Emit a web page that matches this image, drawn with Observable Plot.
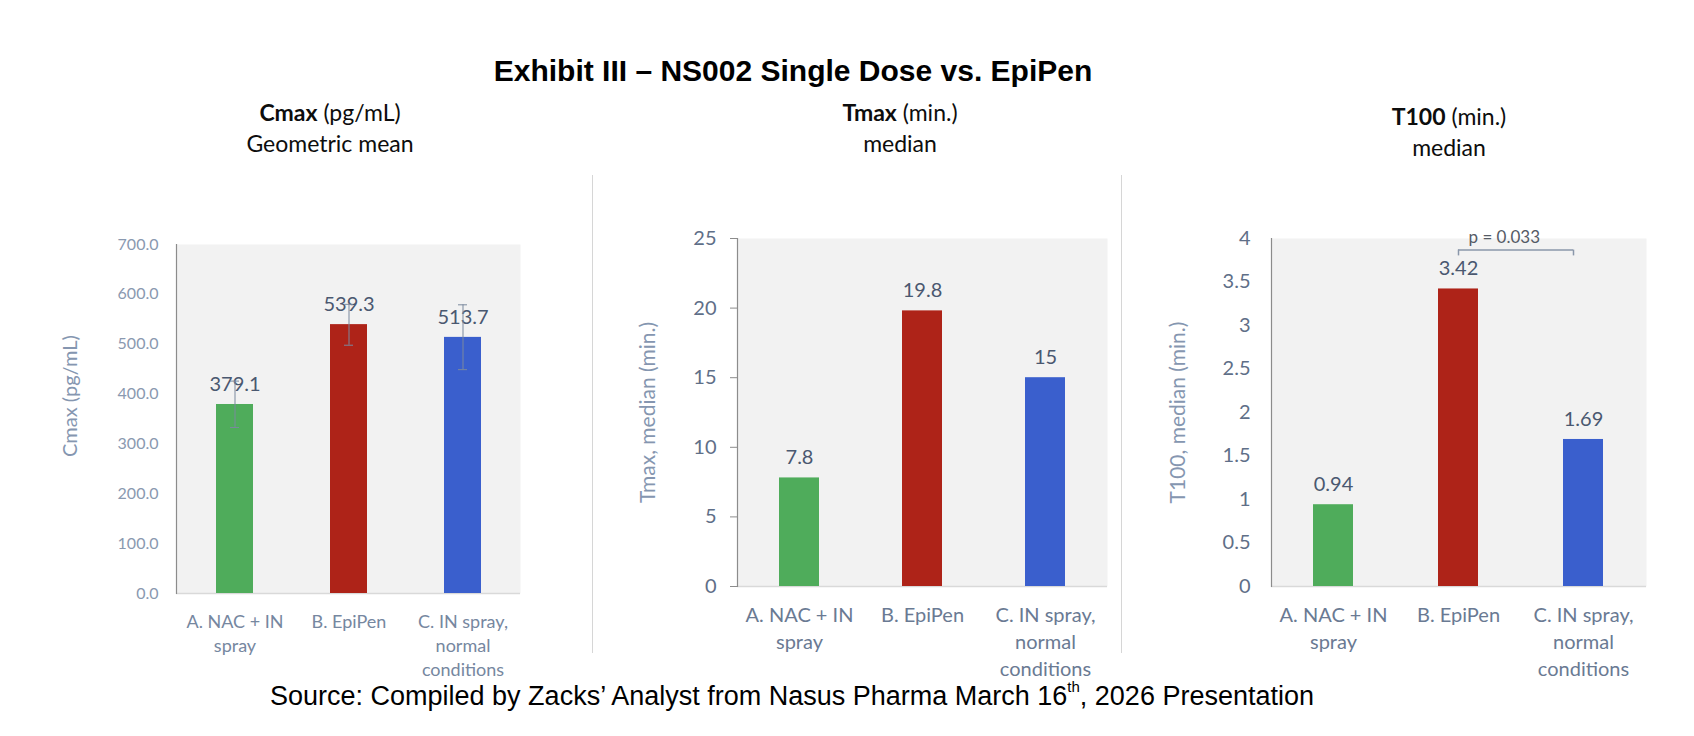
<!DOCTYPE html>
<html><head><meta charset="utf-8">
<script src="https://cdn.jsdelivr.net/npm/d3@7"></script>
<script src="https://cdn.jsdelivr.net/npm/@observablehq/plot@0.6"></script>
<style>
body{margin:0;background:#fff;}
#page{position:relative;width:1694px;height:736px;overflow:hidden;background:#fff;}
.abs{position:absolute;}
#title{left:0;width:1586px;top:54px;line-height:34px;text-align:center;font-family:"Liberation Sans",Arial,sans-serif;font-weight:bold;font-size:30px;color:#000;}
#source{left:0;width:1584px;top:683px;line-height:27px;text-align:center;font-family:"Liberation Sans",Arial,sans-serif;font-size:27px;color:#000;}
#source sup{font-size:15px;line-height:0;position:relative;top:-3px;}
.sub{width:320px;text-align:center;font-family:Lato,"Open Sans",sans-serif;font-size:23px;line-height:30.5px;color:#0d0d0d;}
.sep{width:1px;background:#d6d6d6;top:175px;height:478px;}
.chart{position:absolute;}
</style></head><body>
<div id="page">
  <div id="title" class="abs"></div>
  <div id="sub1" class="abs sub" style="left:170px;top:97px"></div>
  <div id="sub2" class="abs sub" style="left:740px;top:97px"></div>
  <div id="sub3" class="abs sub" style="left:1289px;top:101px"></div>
  <div class="abs sep" style="left:592px"></div>
  <div class="abs sep" style="left:1121px"></div>
  <div id="c1" class="chart" style="left:0px;top:180px"></div>
  <div id="c2" class="chart" style="left:600px;top:180px"></div>
  <div id="c3" class="chart" style="left:1130px;top:180px"></div>
  <div id="source" class="abs"></div>
</div>
<script>
// ---- data ----
const titleText = "Exhibit III \u2013 NS002 Single Dose vs. EpiPen";
const sourceText = ["Source: Compiled by Zacks\u2019 Analyst from Nasus Pharma March 16", "th", ", 2026 Presentation"];
const categories = ["A. NAC + IN spray", "B. EpiPen", "C. IN spray, normal conditions"];
const categoryLabels = ["A. NAC + IN\nspray", "B. EpiPen", "C. IN spray,\nnormal\nconditions"];

const cmaxValues = [379.1, 539.3, 513.7];
const cmaxLabels = ["379.1", "539.3", "513.7"];
const cmaxErrLow = [333, 498, 449];
const cmaxErrHigh = [426, 580, 579];
const cmaxTicks = [0, 100, 200, 300, 400, 500, 600, 700];

const tmaxValues = [7.8, 19.8, 15];
const tmaxLabels = ["7.8", "19.8", "15"];
const tmaxTicks = [0, 5, 10, 15, 20, 25];

const t100Values = [0.94, 3.42, 1.69];
const t100Labels = ["0.94", "3.42", "1.69"];
const t100Ticks = [0, 0.5, 1, 1.5, 2, 2.5, 3, 3.5, 4];

const pTest = [{from: "B. EpiPen", to: "C. IN spray, normal conditions", y: 3.867, yEnd: 3.80, label: "p = 0.033"}];

const subtitles = [
  ["Cmax", " (pg/mL)", "Geometric mean"],
  ["Tmax", " (min.)", "median"],
  ["T100", " (min.)", "median"]
];
const axisTitles = ["Cmax (pg/mL)", "Tmax, median (min.)", "T100, median (min.)"];

// ---- styles ----
const barColors = ["#4fac5b", "#ae2318", "#3a5fcd"];
const FONT = "Lato, 'Open Sans', sans-serif";

// ---- texts ----
document.getElementById("title").textContent = titleText;
const src = document.getElementById("source");
src.append(sourceText[0]);
const sup = document.createElement("sup"); sup.textContent = sourceText[1]; src.append(sup);
src.append(sourceText[2]);
subtitles.forEach((s, i) => {
  const el = document.getElementById("sub" + (i + 1));
  const b = document.createElement("b"); b.textContent = s[0];
  el.append(b, s[1], document.createElement("br"), s[2]);
});

function rows(values, labels) {
  return categories.map((c, i) => ({cat: c, value: values[i], label: labels[i], color: barColors[i]}));
}
const labelOf = c => categoryLabels[categories.indexOf(c)];

function chart(cfg) {
  const data = rows(cfg.values, cfg.labels);
  const marks = [
    Plot.frame({fill: "#f2f2f2", stroke: null}),
    Plot.ruleY([0], {stroke: "#d9d9d9", strokeWidth: 1.5}),
    Plot.frame({anchor: "left", stroke: "#8c8c8c", strokeWidth: 1.2}),
    Plot.axisY({ticks: cfg.ticks, tickFormat: cfg.tickFormat, tickSize: cfg.tickSize, tickPadding: cfg.tickPadding,
      stroke: "#8c8c8c", fill: cfg.tickColor, fontSize: cfg.tickFont, label: null}),
    Plot.axisX({tickSize: 0, tickPadding: cfg.xPad, tickFormat: labelOf, fill: cfg.xColor, fontSize: cfg.xFont,
      lineHeight: cfg.xLineHeight, label: null}),
    Plot.barY(data, {x: "cat", y: "value", fill: "color"}),
    Plot.text(data, {x: "cat", y: "value", text: "label", dy: -20, fontSize: 20, fill: "#4a5870"}),
    Plot.text([cfg.axisTitle], {frameAnchor: "left", textAnchor: "middle", rotate: -90, dx: cfg.titleDx, dy: cfg.titleDy,
      fontSize: cfg.titleFont, fill: "#8596b0"})
  ];
  if (cfg.extra) marks.push(...cfg.extra);
  return Plot.plot({
    width: cfg.width, height: cfg.height,
    marginLeft: cfg.ml, marginRight: cfg.mr, marginTop: cfg.mt, marginBottom: cfg.mb,
    style: {fontFamily: FONT, background: "transparent", overflow: "visible"},
    x: {domain: categories, paddingInner: 0.676, paddingOuter: 0.338},
    y: {domain: cfg.domain},
    marks
  });
}

const cmaxRows = categories.map((c, i) => ({cat: c, lo: cmaxErrLow[i], hi: cmaxErrHigh[i]}));

document.getElementById("c1").append(chart({
  values: cmaxValues, labels: cmaxLabels, ticks: cmaxTicks, tickFormat: d3.format(".1f"), domain: [0, 700],
  width: 560, height: 500, ml: 176, mr: 40, mt: 64, mb: 87,
  tickSize: 0, tickPadding: 18, tickColor: "#8a99b0", tickFont: 16,
  xPad: 17, xFont: 18, xColor: "#7687a0", xLineHeight: 1.35,
  axisTitle: axisTitles[0], titleDx: -106, titleDy: -23, titleFont: 20,
  extra: [
    Plot.ruleX(cmaxRows, {x: "cat", y1: "lo", y2: "hi", stroke: "#7b899e", strokeWidth: 1}),
    Plot.tickY(cmaxRows, {x: "cat", y: "lo", stroke: "#7b899e", strokeWidth: 1, insetLeft: 14, insetRight: 14}),
    Plot.tickY(cmaxRows, {x: "cat", y: "hi", stroke: "#7b899e", strokeWidth: 1, insetLeft: 14, insetRight: 14})
  ]
}));

document.getElementById("c2").append(chart({
  values: tmaxValues, labels: tmaxLabels, ticks: tmaxTicks, tickFormat: d3.format("d"), domain: [0, 25],
  width: 520, height: 500, ml: 137, mr: 13, mt: 58, mb: 94,
  tickSize: 7, tickPadding: 14, tickColor: "#5f6f88", tickFont: 20,
  xPad: 16, xFont: 20, xColor: "#6a7a93", xLineHeight: 1.35,
  axisTitle: axisTitles[1], titleDx: -89, titleDy: 0, titleFont: 21
}));

document.getElementById("c3").append(chart({
  values: t100Values, labels: t100Labels, ticks: t100Ticks, tickFormat: d => String(d), domain: [0, 4],
  width: 564, height: 500, ml: 141, mr: 48, mt: 58, mb: 94,
  tickSize: 0, tickPadding: 21, tickColor: "#5f6f88", tickFont: 20,
  xPad: 16, xFont: 20, xColor: "#6a7a93", xLineHeight: 1.35,
  axisTitle: axisTitles[2], titleDx: -93, titleDy: 0, titleFont: 21,
  extra: [
    Plot.ruleY(pTest, {x1: "from", x2: "to", y: "y", stroke: "#8a97aa", strokeWidth: 1.5, insetLeft: 20, insetRight: 30}),
    Plot.ruleX(pTest, {x: "from", y1: "yEnd", y2: "y", stroke: "#8a97aa", strokeWidth: 1.5}),
    Plot.ruleX(pTest, {x: "to", y1: "yEnd", y2: "y", stroke: "#8a97aa", strokeWidth: 1.5, dx: -10}),
    Plot.text(pTest, {x: "from", y: "y", text: "label", textAnchor: "start", dx: 10, dy: -13, fontSize: 17, fill: "#555b66"})
  ]
}));
</script>
</body></html>
